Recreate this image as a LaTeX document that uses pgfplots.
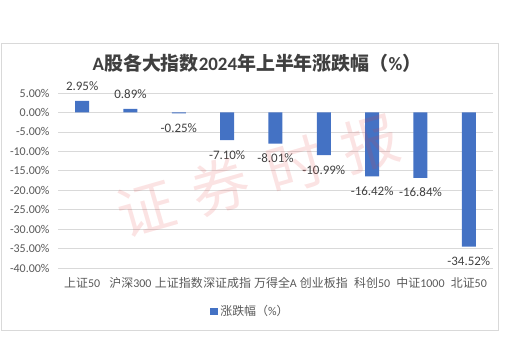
\documentclass[border=0pt]{standalone}
\usepackage{pgfplots}
\pgfplotsset{compat=1.18}
\usepackage{fontspec}
\setmainfont{Carlito}
\newfontfamily\cjk{Noto Sans CJK SC}
\definecolor{barblue}{HTML}{4472C4}
\definecolor{txtgray}{HTML}{595959}
\definecolor{titlegray}{HTML}{404040}
\definecolor{gridgray}{HTML}{D9D9D9}
\definecolor{wmred}{HTML}{E03A3A}
\begin{document}
\begin{tikzpicture}
\path[use as bounding box] (-58bp,-81bp) rectangle (450bp,268bp);
\draw[gridgray, line width=0.75bp] (-57bp,-62bp) rectangle (440bp,225bp);
\begin{axis}[
  at={(0,0)}, anchor=south west,
  scale only axis, width=435bp, height=175bp,
  xmin=-0.5, xmax=8.5, ymin=-40, ymax=5,
  xtick={0,...,8},
  xticklabels={{\cjk 上证}50,{\cjk 沪深}300,{\cjk 上证指数},{\cjk 深证成指},{\cjk 万得全}A,{\cjk 创业板指},{\cjk 科创}50,{\cjk 中证}1000,{\cjk 北证}50},
  ytick={-40,-35,-30,-25,-20,-15,-10,-5,0,5},
  /pgf/number format/assume math mode=true,
  yticklabel={\pgfmathprintnumber[fixed,fixed zerofill,precision=2]{\tick}\%},
  axis line style={draw=none},
  major tick length=0pt,
  ymajorgrids,
  grid style={draw=gridgray, line width=0.75bp},
  tick label style={font=\fontsize{12}{14}\selectfont, text=txtgray},
  xticklabel style={anchor=center, yshift=-15bp},
  yticklabel style={anchor=east, xshift=-5bp},
  ybar, bar width=14bp,
  nodes near coords={\pgfmathprintnumber[fixed,fixed zerofill,precision=2]{\pgfplotspointmeta}\%},
  nodes near coords align=vertical,
  every node near coord/.append style={font=\fontsize{13}{15}\selectfont, text=titlegray, inner ysep=10bp, inner xsep=0bp},
  legend style={draw=none, at={(0.4425,-0.246)}, anchor=center, font=\fontsize{12}{14}\selectfont, text=txtgray, inner sep=0pt},
  legend image code/.code={\fill[barblue] (0bp,-3.5bp) rectangle (8bp,3.5bp);},
  clip=false,
]
\addplot[fill=barblue, draw=none] coordinates {
(0,2.95) (1,0.89) (2,-0.25) (3,-7.10) (4,-8.01) (5,-10.99) (6,-16.42) (7,-16.84) (8,-34.52)
};
\addlegendentry{{\cjk 涨跌幅（}\%{\cjk ）}}
\end{axis}
\node[font=\fontsize{19}{21}\selectfont\bfseries, text=titlegray] at (199bp,205bp) {A{\cjk\bfseries 股各大指数}2024{\cjk\bfseries 年上半年涨跌幅（}\%{\cjk\bfseries ）}};
\node[rotate=16, text=wmred, opacity=0.14, font=\cjk\fontsize{58}{58}\selectfont] at (200bp,92bp) {证\hspace{20bp}券\hspace{20bp}时\hspace{20bp}报};
\end{tikzpicture}
\end{document}
